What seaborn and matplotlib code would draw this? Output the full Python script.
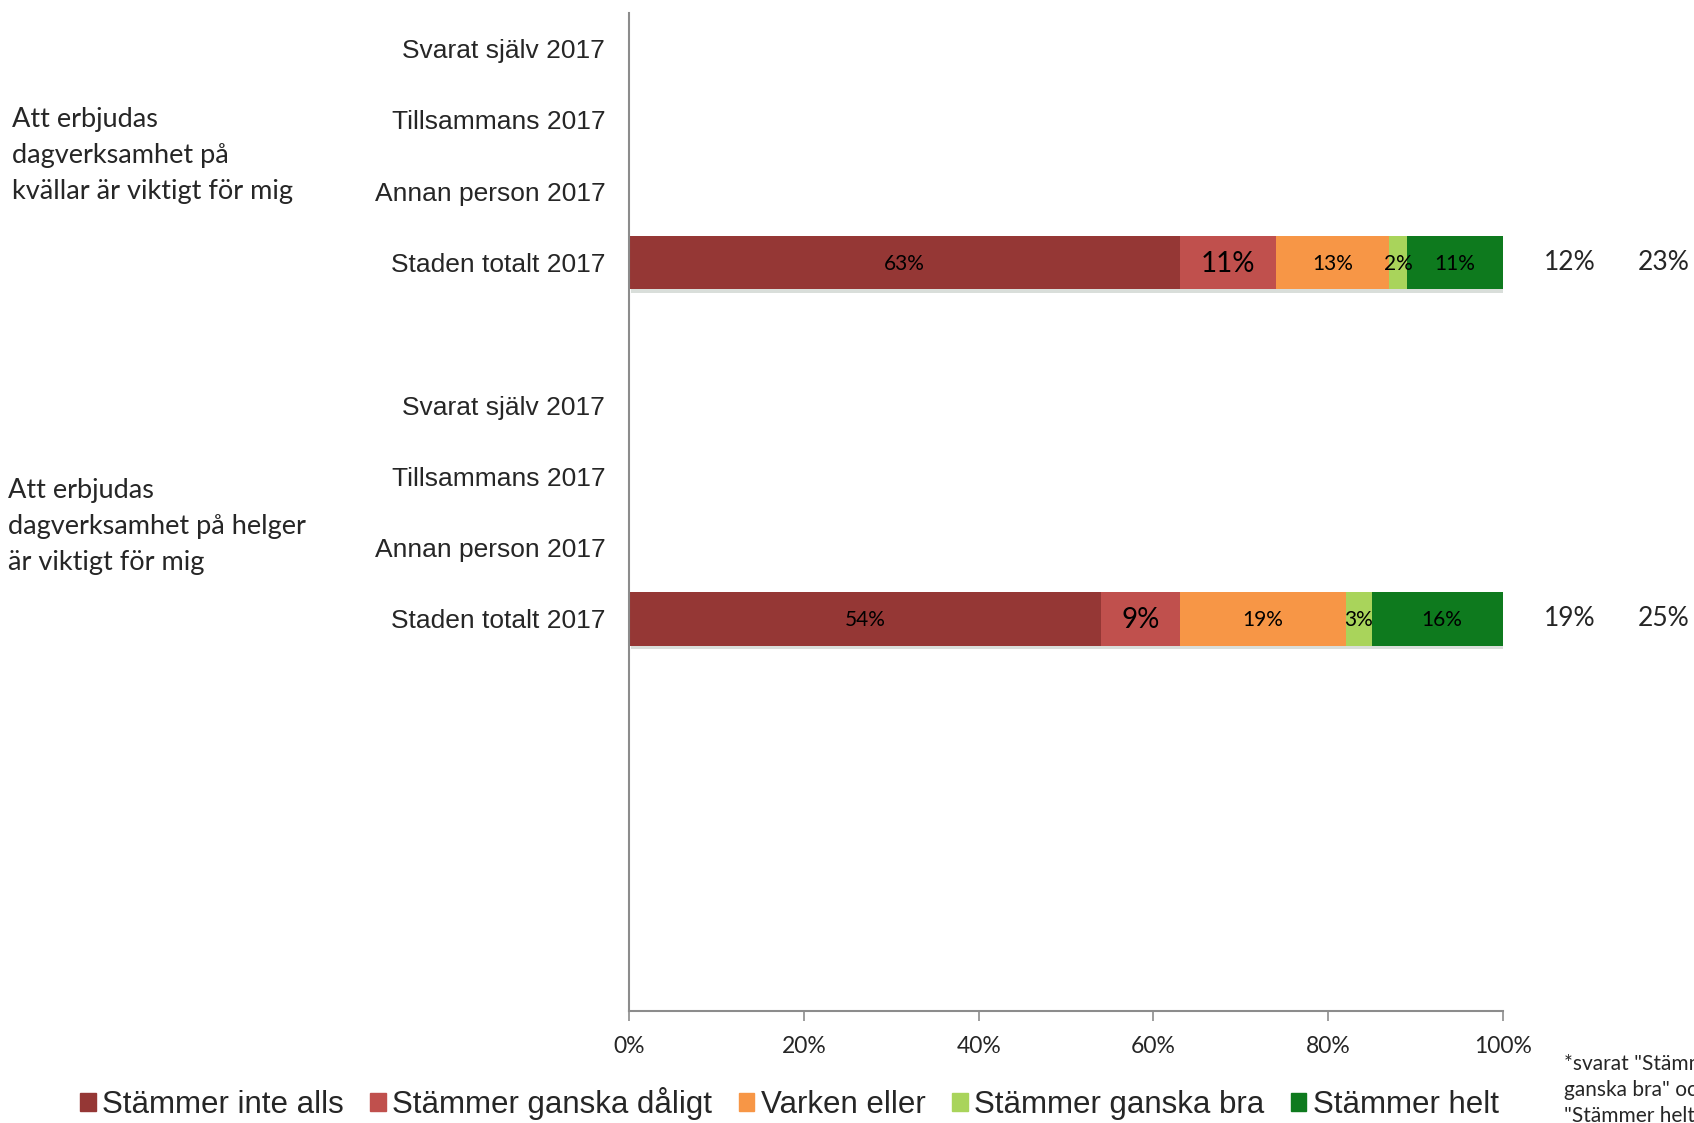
import numpy as np
import pandas as pd
import matplotlib
matplotlib.use("Agg")
import matplotlib.pyplot as plt
import matplotlib.patheffects as pe
import matplotlib.transforms as mtransforms
import seaborn as sns

series = ["Stämmer inte alls", "Stämmer ganska dåligt", "Varken eller",
          "Stämmer ganska bra", "Stämmer helt"]
colors = ["#953735", "#C0504D", "#F79646", "#A9D45B", "#0E7A1E"]
questions = ["Att erbjudas\ndagverksamhet på\nkvällar är viktigt för mig",
             "Att erbjudas\ndagverksamhet på helger\när viktigt för mig"]
rows = ["Svarat själv 2017", "Tillsammans 2017", "Annan person 2017", "Staden totalt 2017"]
kvallar = [63, 11, 13, 2, 11]
helger = [54, 9, 19, 3, 16]
col_a = ["12%", "19%"]
col_b = ["23%", "25%"]
footnote = '*svarat "Stämmer\nganska bra" och\n"Stämmer helt"'

sns.set_style("white")
plt.rcParams["font.family"] = ["Liberation Sans", "DejaVu Sans"]

# category slots: 4 rows per question + gaps (Excel layout)
keys, labels = [], []
for qi in range(2):
    for r in rows:
        keys.append(f"{qi}-{r}")
        labels.append(r)
    keys.append(f"gap{qi}")
    labels.append("")
for g in range(2, 6):
    keys.append(f"gap{g}")
    labels.append("")

recs = []
for qi, vals in enumerate([kvallar, helger]):
    for s, v in zip(series, vals):
        recs.append({"key": f"{qi}-Staden totalt 2017", "series": s, "value": v})
df = pd.DataFrame(recs)
df["cum"] = df.groupby("key")["value"].cumsum()

fig = plt.figure(figsize=(16.94, 11.23), dpi=100)
ax = fig.add_axes([0.3713, 0.0997, 0.5160, 0.8887])

for i in reversed(range(len(series))):
    sub = df[df["series"] == series[i]]
    sns.barplot(data=sub, x="cum", y="key", order=keys, orient="h", color=colors[i],
                saturation=1, width=0.75, errorbar=None, linewidth=0, ax=ax)
    if i == len(series) - 1:
        for p in ax.patches:
            p.set_path_effects([pe.SimplePatchShadow(offset=(1.5, -2.5), alpha=0.15), pe.Normal()])

label_sizes = [15, 20, 15, 15, 15]
for _, r in df.iterrows():
    si = series.index(r["series"])
    y = keys.index(r["key"])
    ax.text(r["cum"] - r["value"] / 2, y + 0.02, f"{r['value']}%", ha="center", va="center",
            fontsize=label_sizes[si], family="Lato", color="black")

for qi in range(2):
    y = keys.index(f"{qi}-Staden totalt 2017")
    ax.text(107.6, y, col_a[qi], ha="center", va="center", fontsize=19, family="Lato", clip_on=False)
    ax.text(118.4, y, col_b[qi], ha="center", va="center", fontsize=19, family="Lato", clip_on=False)

trans = mtransforms.blended_transform_factory(fig.transFigure, ax.transData)
ax.text(0.007, 1.5, questions[0], transform=trans, ha="left", va="center",
        fontsize=19.5, family="Lato", linespacing=1.55)
ax.text(0.005, 6.7, questions[1], transform=trans, ha="left", va="center",
        fontsize=19.5, family="Lato", linespacing=1.55)

ax.set_xlim(0, 100)
ax.set_ylim(13.5, -0.5)
ax.set_xticks(np.arange(0, 101, 20))
ax.set_xticklabels([f"{t}%" for t in range(0, 101, 20)], family="Lato", fontsize=16.5)
ax.set_yticks(range(len(keys)))
ax.set_yticklabels(labels, fontsize=19)
ax.set_xlabel("")
ax.set_ylabel("")
ax.tick_params(axis="y", length=0, pad=17)
ax.tick_params(axis="x", length=7, width=1.2, color="#8c8c8c", direction="out", pad=11, bottom=True)
for sp in ["top", "right"]:
    ax.spines[sp].set_visible(False)
for sp in ["left", "bottom"]:
    ax.spines[sp].set_color("#8c8c8c")
    ax.spines[sp].set_linewidth(1.5)

handles = [plt.Rectangle((0, 0), 1, 1, color=c) for c in colors]
fig.legend(handles, series, loc="center", bbox_to_anchor=(0.466, 0.017), ncol=5, frameon=False,
           handlelength=0.5, handleheight=0.5, handletextpad=0.2, columnspacing=0.85,
           prop={"family": "Liberation Sans", "size": 22.5})

fig.text(1564 / 1694, 1 - 1054 / 1123, footnote, ha="left", va="top", fontsize=15,
         family="Lato", linespacing=1.38)

fig.savefig("out.png", dpi=100)
